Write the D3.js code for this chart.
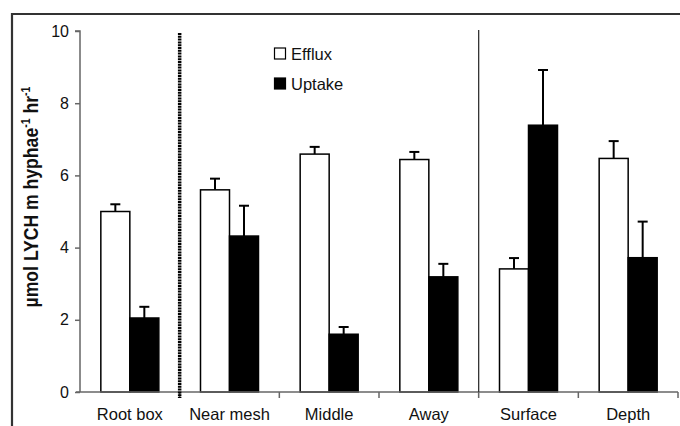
<!DOCTYPE html>
<html><head><meta charset="utf-8">
<script src="https://cdn.jsdelivr.net/npm/d3@7"></script>
<style>body{margin:0;background:#fff}svg{display:block}text{font-family:"Liberation Sans",Arial,sans-serif;fill:#111}</style>
</head><body><svg id="c" width="680" height="426"></svg>
<script>
const categories = ["Root box","Near mesh","Middle","Away","Surface","Depth"];
const series = ["Efflux","Uptake"];
const efflux = [5.0, 5.6, 6.59, 6.44, 3.41, 6.47];
const efflux_err = [0.2, 0.31, 0.2, 0.21, 0.3, 0.48];
const uptake = [2.05, 4.32, 1.6, 3.19, 7.39, 3.72];
const uptake_err = [0.31, 0.84, 0.2, 0.36, 1.53, 1.0];
const yTicks = [0,2,4,6,8,10];

const svg = d3.select("#c");
const x0 = 80, x1 = 678, yTop = 31, yBot = 392;
const x = d3.scaleBand().domain(categories).range([x0, x1]).padding(0);
const y = d3.scaleLinear().domain([0,10]).range([yBot, yTop]);
const sub = d3.scaleBand().domain(series).range([-29, 29]).padding(0);
const colors = {Efflux:"#fff", Uptake:"#000"};

// outer frame
svg.append("path").attr("d","M12,430 L12,14 L684,14").attr("fill","none").attr("stroke","#333").attr("stroke-width",2.2);

const data = [];
categories.forEach((c,i)=>{
  data.push({c, s:"Efflux", v:efflux[i], e:efflux_err[i]});
  data.push({c, s:"Uptake", v:uptake[i], e:uptake_err[i]});
});

// error bars
const eg = svg.append("g").attr("stroke","#000").attr("stroke-width",2);
data.forEach(d=>{
  const cx = x(d.c) + x.bandwidth()/2 + sub(d.s) + sub.bandwidth()/2;
  eg.append("line").attr("x1",cx).attr("x2",cx).attr("y1",y(d.v)).attr("y2",y(d.v+d.e));
  eg.append("line").attr("x1",cx-5).attr("x2",cx+5).attr("y1",y(d.v+d.e)).attr("y2",y(d.v+d.e));
});

// bars
svg.append("g").selectAll("rect").data(data).join("rect")
  .attr("x", d=>x(d.c)+x.bandwidth()/2+sub(d.s))
  .attr("width", sub.bandwidth())
  .attr("y", d=>y(d.v))
  .attr("height", d=>yBot-y(d.v))
  .attr("fill", d=>colors[d.s])
  .attr("stroke","#000").attr("stroke-width",1.5);

// y axis
const yAxis = svg.append("g").attr("transform",`translate(${x0},0)`)
  .call(d3.axisLeft(y).tickValues(yTicks).tickSize(5).tickPadding(6).tickFormat(d3.format("d")));
yAxis.select(".domain").attr("stroke","#666").attr("stroke-width",1.5).attr("d",`M-5,${yTop}H0V${yBot}`);
yAxis.selectAll(".tick line").attr("stroke","#666").attr("stroke-width",1.5);
yAxis.selectAll(".tick text").attr("font-size",16).attr("fill","#111").attr("font-family",'"Liberation Sans",Arial,sans-serif');

// x axis
const xAxis = svg.append("g").attr("transform",`translate(0,${yBot})`);
xAxis.append("line").attr("x1",x0-4).attr("x2",x1).attr("y1",0).attr("y2",0).attr("stroke","#666").attr("stroke-width",1.5);
const bounds = categories.map(c=>x(c)).concat([x1]);
xAxis.selectAll("line.b").data(bounds.slice(1)).join("line").attr("class","b")
  .attr("x1",d=>d).attr("x2",d=>d).attr("y1",0).attr("y2",6).attr("stroke","#666").attr("stroke-width",1.5);
xAxis.selectAll("text").data(categories).join("text")
  .attr("x",d=>x(d)+x.bandwidth()/2).attr("y",28).attr("text-anchor","middle").attr("font-size",16.5).text(d=>d);

// dividers
svg.append("line").attr("x1",x(categories[1])).attr("x2",x(categories[1])).attr("y1",33).attr("y2",398)
  .attr("stroke","#000").attr("stroke-width",3.5).attr("stroke-dasharray","2,0.8");
svg.append("line").attr("x1",x(categories[4])).attr("x2",x(categories[4])).attr("y1",30).attr("y2",yBot)
  .attr("stroke","#333").attr("stroke-width",1.3);

// legend
const lg = svg.append("g");
series.forEach((s,i)=>{
  const yy = 48 + i*30;
  lg.append("rect").attr("x",274.5).attr("y",yy).attr("width",11).attr("height",11)
    .attr("fill",colors[s]).attr("stroke","#000").attr("stroke-width",1.2);
  lg.append("text").attr("x",291).attr("y",yy+11.5).attr("font-size",16.5).text(s);
});

// y label
const yl = svg.append("text").attr("transform","translate(38,197) rotate(-90) scale(0.88,1)")
  .attr("text-anchor","middle").attr("font-size",20).attr("font-weight","bold");
yl.append("tspan").text("\u00b5mol LYCH m hyphae");
yl.append("tspan").attr("font-size",12).attr("dy",-8).text("-1");
yl.append("tspan").attr("dy",8).text(" hr");
yl.append("tspan").attr("font-size",12).attr("dy",-8).text("-1");
</script></body></html>
